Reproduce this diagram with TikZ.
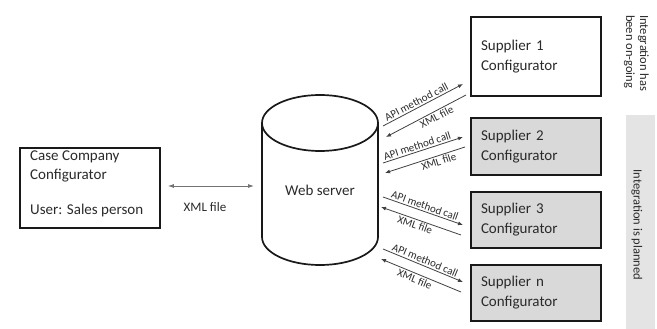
\documentclass[tikz,border=0pt]{standalone}
\usepackage{fontspec}
\setmainfont{Carlito}
\usetikzlibrary{arrows.meta}
\definecolor{boxgray}{HTML}{D9D9D9}
\definecolor{panelgray}{HTML}{E4E4E4}
\definecolor{txt}{HTML}{2A2A2A}
\begin{document}
\begin{tikzpicture}[x=1pt,y=1pt,
  thickbox/.style={draw=black!90, line width=1.7pt, minimum width=140pt, minimum height=80pt, inner sep=0pt},
  supbox/.style={draw=black!90, line width=1.7pt, minimum width=130pt, text width=110pt, inner xsep=10pt, align=left, text=txt, font=\fontsize{15}{20}\selectfont},
  lbl/.style={text=txt, font=\fontsize{15}{19}\selectfont, inner sep=0pt},
  small/.style={text=txt, font=\fontsize{11}{13}\selectfont, inner sep=1.5pt, sloped},
  conn/.style={draw=black!75, line width=0.8pt},
  tip/.style={-{Latex[length=5pt,width=4pt]}},
  pittip/.style={{Latex[length=5pt,width=4pt]}-},
]
\useasboundingbox (0,0) rectangle (657,-329);

% left box
\node[thickbox] (caseco) at (90,-188) {};
\node[lbl, anchor=north west, align=left] (cctext) at (30,-151) {Case Company\\Configurator\\[16pt]User: Sales person};

% cylinder
\node[minimum width=116pt, minimum height=170pt, inner sep=0pt] (web) at (320,-180) {};
\draw[line width=1.7pt, draw=black!90] (320,-123) ellipse [x radius=58, y radius=28];
\draw[line width=1.7pt, draw=black!90] (262,-123) -- (262,-237)
  arc [start angle=180, end angle=360, x radius=58, y radius=28] -- (378,-123);
\node[lbl] (webtext) at (320,-190) {Web server};

% left arrow
\draw[conn, draw=black!55, {Latex[length=6pt,width=4pt]}-{Latex[length=6pt,width=4pt]}] (caseco.east) ++(7,2) coordinate (xa) -- (254,-186) coordinate (xb);
\node[text=txt, font=\fontsize{13}{15}\selectfont] (xmlleft) at (205,-207) {XML file};

% supplier boxes
\node[supbox, minimum height=79pt, fill=white] (s1) at (536,-56.5) {\raisebox{-3pt}{\parbox{110pt}{Supplier 1\\Configurator}}};
\node[supbox, minimum height=57pt, fill=boxgray] (s2) at (536,-146.5) {Supplier 2\\Configurator};
\node[supbox, minimum height=56pt, fill=boxgray] (s3) at (536,-220) {Supplier 3\\Configurator};
\node[supbox, minimum height=56pt, fill=boxgray] (sn) at (536,-293) {Supplier n\\Configurator};

% arrow end coordinates
\coordinate (a1s) at (383,-126); \coordinate (a1e) at (463,-84);
\coordinate (b1s) at (386,-137); \coordinate (b1e) at (466,-95);
\coordinate (a2s) at (383,-163); \coordinate (a2e) at (463,-137);
\coordinate (b2s) at (385,-173); \coordinate (b2e) at (465,-147);
\coordinate (a3s) at (383,-197); \coordinate (a3e) at (463,-225);
\coordinate (b3s) at (381,-207); \coordinate (b3e) at (461,-235);
\coordinate (a4s) at (383,-249); \coordinate (a4e) at (463,-282);
\coordinate (b4s) at (381,-259); \coordinate (b4e) at (461,-292);

\draw[conn, tip] (a1s) -- node[small, above, pos=0.45] (api1) {API method call} (a1e);
\draw[conn, pittip] (b1s) -- node[small, below, pos=0.6] (xml1) {XML file} (b1e);
\draw[conn, tip] (a2s) -- node[small, above, pos=0.45] (api2) {API method call} (a2e);
\draw[conn, pittip] (b2s) -- node[small, below, pos=0.65] (xml2) {XML file} (b2e);
\draw[conn, tip] (a3s) -- node[small, above, pos=0.5] (api3) {API method call} (a3e);
\draw[conn, pittip] (b3s) -- node[small, below, pos=0.45] (xml3) {XML file} (b3e);
\draw[conn, tip] (a4s) -- node[small, above, pos=0.5] (api4) {API method call} (a4e);
\draw[conn, pittip] (b4s) -- node[small, below, pos=0.45] (xml4) {XML file} (b4e);

% side labels
\node[fill=panelgray, minimum width=29pt, minimum height=214pt, inner sep=0pt] (panel) at (640.5,-222) {};
\node[rotate=-90, text=txt, font=\fontsize{12.5}{14}\selectfont, inner sep=0pt] (planned) at (637,-225) {Integration is planned};
\node[rotate=-90, anchor=north west, align=left, text=txt, font=\fontsize{12.5}{14}\selectfont, inner sep=0pt] (ongoing) at (649,-15) {Integration has\\been on-going};
\end{tikzpicture}
\end{document}
